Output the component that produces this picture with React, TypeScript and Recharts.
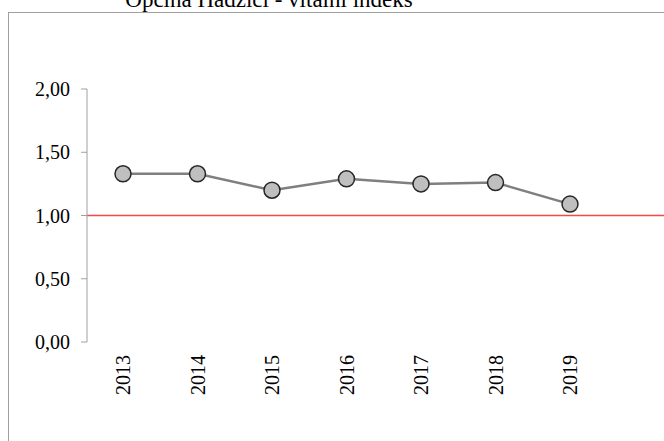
import { LineChart, Line, XAxis, YAxis, ReferenceLine } from 'recharts'

const years = ['2013', '2014', '2015', '2016', '2017', '2018', '2019']
const vitalIndex = [1.33, 1.33, 1.2, 1.29, 1.25, 1.26, 1.09]
const yTicks = [0, 0.5, 1, 1.5, 2]
const title = 'Općina Hadžići - vitalni indeks'

const data = years.map((year, i) => ({ year, value: vitalIndex[i] }))

const FONT = '"Liberation Serif", "Times New Roman", serif'
const RED = '#f24a4a'

function YearTick(props: any) {
  const { x, y, payload } = props
  return (
    <text
      x={x}
      y={y}
      transform={`rotate(-90, ${x}, ${y})`}
      textAnchor="end"
      dominantBaseline="central"
      fontSize={20}
      fontFamily={FONT}
      fill="#000"
    >
      {payload.value}
    </text>
  )
}

export default function App() {
  return (
    <div
      style={{
        position: 'fixed',
        top: 0,
        left: 0,
        width: 664,
        height: 441,
        overflow: 'hidden',
        background: '#fff',
      }}
    >
      {/* chart area frame, runs past the crop on the right and bottom */}
      <div
        style={{
          position: 'absolute',
          left: 8,
          top: 12,
          width: 760,
          height: 520,
          border: '1px solid #a0a0a0',
        }}
      />
      <svg width={664} height={30} style={{ position: 'absolute', left: 0, top: 0 }}>
        <text x={269} y={7} textAnchor="middle" fontSize={23} fontFamily={FONT} fill="#000">
          {title}
        </text>
      </svg>
      <div style={{ position: 'absolute', left: 0, top: 0 }}>
        <LineChart
          width={740}
          height={480}
          data={data}
          margin={{ top: 89, right: 0, left: 0, bottom: 78 }}
        >
          <XAxis
            dataKey="year"
            axisLine={false}
            tickLine={false}
            tickSize={0}
            tickMargin={13}
            height={60}
            interval={0}
            padding={{ left: 36, right: 170 }}
            tick={<YearTick />}
          />
          <YAxis
            width={87}
            domain={[0, 2]}
            ticks={yTicks}
            interval={0}
            tickSize={6}
            tickMargin={11}
            axisLine={{ stroke: '#a0a0a0' }}
            tickLine={{ stroke: '#a0a0a0' }}
            tick={{ fontSize: 20, fontFamily: FONT, fill: '#000' }}
            tickFormatter={(v: number) => v.toFixed(2).replace('.', ',')}
          />
          {/* threshold at index = 1 */}
          <ReferenceLine y={1} stroke={RED} strokeWidth={1.5} />
          <Line
            dataKey="value"
            stroke="#7f7f7f"
            strokeWidth={2.5}
            dot={{ r: 8, fill: '#bfbfbf', stroke: '#262626', strokeWidth: 1.5 }}
            activeDot={false}
            isAnimationActive={false}
          />
        </LineChart>
      </div>
    </div>
  )
}
